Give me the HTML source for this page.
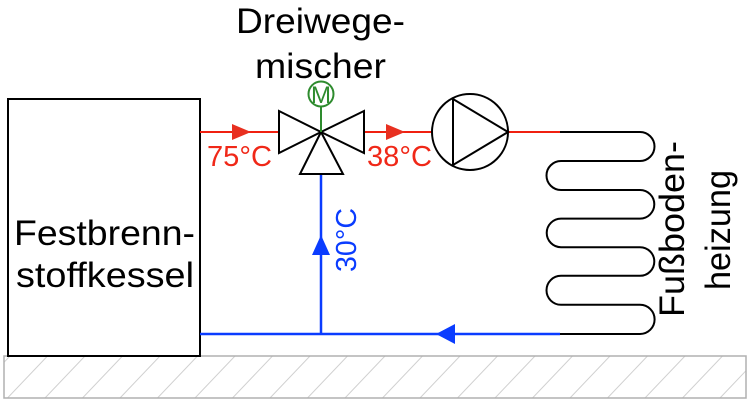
<!DOCTYPE html>
<html><head><meta charset="utf-8"><style>
html,body{margin:0;padding:0;background:#fff;}
svg{display:block;}
text{font-family:"Liberation Sans",Arial,sans-serif;}
</style></head><body>
<svg width="750" height="403" viewBox="0 0 750 403" xmlns="http://www.w3.org/2000/svg">
<defs>
<clipPath id="gc"><rect x="4" y="356" width="742" height="42"/></clipPath>
</defs>
<g clip-path="url(#gc)" stroke="#d0d0d0" stroke-width="1">
<path d="M-30 398 L10 356 M7.5 398 L47.5 356 M45 398 L85 356 M82.5 398 L122.5 356 M120 398 L160 356 M157.5 398 L197.5 356 M195 398 L235 356 M232.5 398 L272.5 356 M270 398 L310 356 M307.5 398 L347.5 356 M345 398 L385 356 M382.5 398 L422.5 356 M420 398 L460 356 M457.5 398 L497.5 356 M495 398 L535 356 M532.5 398 L572.5 356 M570 398 L610 356 M607.5 398 L647.5 356 M645 398 L685 356 M682.5 398 L722.5 356 M720 398 L760 356"/>
</g>
<rect x="4" y="356" width="742" height="42" fill="none" stroke="#b0b0b0" stroke-width="1.5"/>
<rect x="8" y="99" width="192" height="257" fill="#fff" stroke="#000" stroke-width="2"/>
<text x="14" y="245" font-size="35" textLength="181" lengthAdjust="spacingAndGlyphs">Festbrenn-</text>
<text x="16" y="287" font-size="35" textLength="178" lengthAdjust="spacingAndGlyphs">stoffkessel</text>
<line x1="200" y1="132" x2="279" y2="132" stroke="#f02010" stroke-width="2"/>
<polygon points="232,124 251,132 232,140" fill="#e83020"/>
<line x1="364" y1="132" x2="432" y2="132" stroke="#f02010" stroke-width="2"/>
<polygon points="386,124 405,132 386,140" fill="#e83020"/>
<line x1="508" y1="132" x2="560" y2="132" stroke="#f02010" stroke-width="2"/>
<text x="207" y="166" font-size="29" fill="#f02818" textLength="65" lengthAdjust="spacingAndGlyphs">75°C</text>
<text x="367" y="166" font-size="29" fill="#f02818" textLength="65" lengthAdjust="spacingAndGlyphs">38°C</text>
<line x1="200" y1="334" x2="560" y2="334" stroke="#0a3cff" stroke-width="2.5"/>
<line x1="321" y1="174" x2="321" y2="334" stroke="#0a3cff" stroke-width="2.5"/>
<polygon points="321,235 312,255 330,255" fill="#0a3cff"/>
<polygon points="436,334 455,324 455,344" fill="#0a3cff"/>
<text transform="translate(356,272) rotate(-90)" font-size="29" fill="#0a3cff" textLength="64" lengthAdjust="spacingAndGlyphs">30°C</text>
<g fill="#fff" stroke="#000" stroke-width="2" stroke-linejoin="miter">
<polygon points="279,111 321,132 279,153"/>
<polygon points="364,111 321,132 364,153"/>
<polygon points="321,132 300,174 343,174"/>
</g>
<line x1="321" y1="106" x2="321" y2="132" stroke="#2e8b2e" stroke-width="2"/>
<circle cx="321" cy="94" r="12.5" fill="#fff" stroke="#2e8b2e" stroke-width="2"/>
<text x="321" y="103" font-size="24" fill="#2e8b2e" text-anchor="middle">M</text>
<text x="236" y="33" font-size="35" textLength="169" lengthAdjust="spacingAndGlyphs">Dreiwege-</text>
<text x="255" y="78" font-size="35" textLength="131" lengthAdjust="spacingAndGlyphs">mischer</text>
<circle cx="470" cy="132" r="38" fill="#fff" stroke="#000" stroke-width="2"/>
<polygon points="453,99 453,165 508,132" fill="none" stroke="#000" stroke-width="2"/>
<path d="M560 132 L640 132 A14.5 14.5 0 0 1 640 161 L561 161 A14.5 14.5 0 0 0 561 190 L640 190 A14.3 14.3 0 0 1 640 218.6 L561 218.6 A14.3 14.3 0 0 0 561 247.2 L640 247.2 A14.3 14.3 0 0 1 640 275.8 L561 275.8 A14.5 14.5 0 0 0 561 304.8 L640 304.8 A14.6 14.6 0 0 1 640 334 L560 334" fill="none" stroke="#000" stroke-width="2"/>
<text transform="translate(684,317) rotate(-90)" font-size="35" textLength="176" lengthAdjust="spacingAndGlyphs">Fußboden-</text>
<text transform="translate(730,290) rotate(-90)" font-size="35" textLength="120" lengthAdjust="spacingAndGlyphs">heizung</text>
</svg>
</body></html>
